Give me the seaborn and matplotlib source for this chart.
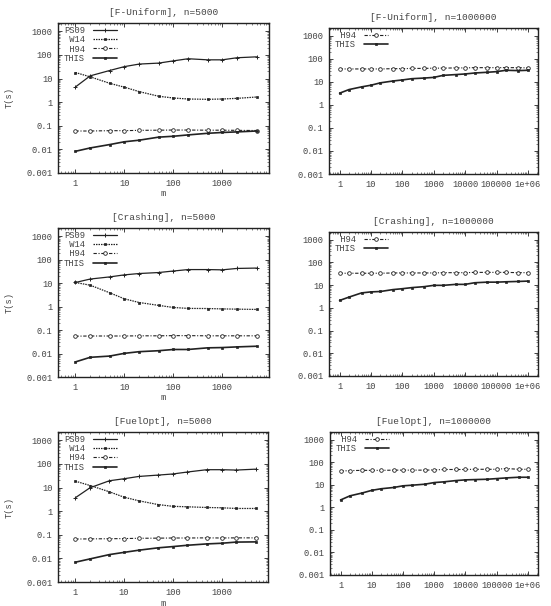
import numpy as np
import pandas as pd
import matplotlib
matplotlib.use("Agg")
import matplotlib.pyplot as plt
import matplotlib.ticker as mticker
import seaborn as sns

# ---------------- data ----------------
m_small = [1, 2, 5, 10, 20, 50, 100, 200, 500, 1000, 2000, 5000]
m_large = [1, 2, 5, 10, 20, 50, 100, 200, 500, 1000, 2000, 5000, 10000,
           20000, 50000, 100000, 200000, 500000, 1000000]

# [F-Uniform], n=5000
fu5_ps09 = [4.4, 13, 21.9, 32, 41, 45, 56, 69, 62, 62, 76, 83]
fu5_w14 = [18, 11.8, 6.3, 4.3, 2.8, 1.78, 1.5, 1.36, 1.32, 1.36, 1.45, 1.65]
fu5_h94 = [0.060, 0.060, 0.062, 0.062, 0.064, 0.065, 0.066, 0.066, 0.065, 0.065, 0.064, 0.063]
fu5_this = [0.0083, 0.0115, 0.016, 0.021, 0.0245, 0.033, 0.036, 0.041, 0.048, 0.052, 0.055, 0.060]

# [F-Uniform], n=1000000
fu1m_h94 = [36, 36, 36, 36, 36, 37, 37, 38, 38, 39, 39, 40, 40, 41, 41, 41, 41, 41, 40]
fu1m_this = [3.2, 4.6, 6.0, 7.1, 9.0, 10.8, 12, 13.6, 14.5, 15.5, 19, 20.5, 21.8,
             24, 25.8, 27.5, 31.5, 30.5, 31.5]

# [Crashing], n=5000
cr5_ps09 = [10.7, 15, 18.5, 22.6, 25.8, 28.4, 33, 38, 38, 37, 42.5, 44]
cr5_w14 = [10.7, 8.2, 3.9, 2.15, 1.5, 1.13, 0.92, 0.84, 0.83, 0.80, 0.78, 0.76]
cr5_h94 = [0.055, 0.056, 0.056, 0.056, 0.057, 0.057, 0.058, 0.058, 0.057, 0.057, 0.057, 0.057]
cr5_this = [0.0044, 0.0069, 0.0078, 0.0102, 0.012, 0.0132, 0.0149, 0.0149, 0.0175, 0.018, 0.0192, 0.0205]

# [Crashing], n=1000000
cr1m_h94 = [33, 33, 33, 33, 33, 34, 34, 34, 34, 34, 35, 35, 35, 36, 36, 36, 36, 35, 35]
cr1m_this = [2.1, 2.95, 4.5, 5.0, 5.2, 6.3, 6.9, 7.7, 8.5, 9.7, 9.7, 10.7, 10.7,
             12.6, 13.4, 13.4, 13.9, 14.4, 14.9]

# [FuelOpt], n=5000
fo5_ps09 = [3.7, 9.8, 19.4, 23.6, 29.5, 33.7, 37.5, 45.5, 57, 57, 55, 60]
fo5_w14 = [18.6, 12.2, 6.6, 3.9, 2.75, 1.9, 1.6, 1.53, 1.43, 1.39, 1.3, 1.3]
fo5_h94 = [0.066, 0.067, 0.068, 0.069, 0.071, 0.072, 0.073, 0.073, 0.074, 0.073, 0.074, 0.074]
fo5_this = [0.0069, 0.0095, 0.0145, 0.018, 0.0222, 0.028, 0.0316, 0.036, 0.041, 0.0437, 0.049, 0.050]

# [FuelOpt], n=1000000
fo1m_h94 = [40, 42, 43, 43, 43, 44, 44, 44, 44, 45, 47, 47, 47, 48, 48, 48, 52, 48, 48]
fo1m_this = [2.1, 3.2, 4.3, 5.6, 6.6, 7.5, 8.9, 9.5, 10.5, 12.4, 13.3, 15.2, 16.3,
             16.8, 17.4, 18.6, 19.9, 21.3, 21.3]

titles = ["[F-Uniform], n=5000", "[F-Uniform], n=1000000",
          "[Crashing], n=5000", "[Crashing], n=1000000",
          "[FuelOpt], n=5000", "[FuelOpt], n=1000000"]

y_ticks = [0.001, 0.01, 0.1, 1, 10, 100, 1000]
y_tick_labels = ["0.001", "0.01", "0.1", "1", "10", "100", "1000"]
x_ticks_small = [1, 10, 100, 1000]
x_tick_labels_small = ["1", "10", "100", "1000"]
x_ticks_large = [1, 10, 100, 1000, 10000, 100000, 1000000]
x_tick_labels_large = ["1", "10", "100", "1000", "10000", "100000", "1e+06"]

# ---------------- style ----------------
sns.set_style("ticks")
plt.rcParams["font.family"] = ["Liberation Mono", "DejaVu Sans Mono"]
INK = "#222222"
TXT = "#444444"

series_style = {
    "PS09": dict(linestyle="-", marker="+", markersize=3.2, linewidth=0.9,
                 markerfacecolor=INK, markeredgewidth=0.7),
    "W14": dict(linestyle=(0, (1.2, 0.8)), marker="s", markersize=1.5, linewidth=0.9,
                markerfacecolor=INK, markeredgewidth=0.5),
    "H94": dict(linestyle=(0, (3, 1.5, 1, 1.5)), marker="o", markersize=2.6, linewidth=0.8,
                markerfacecolor="white", markeredgewidth=0.6),
    "THIS": dict(linestyle="-", marker="s", markersize=1.8, linewidth=1.2,
                 markerfacecolor=INK, markeredgewidth=0.5),
}

W, H = 551, 606
fig = plt.figure(figsize=(W / 100, H / 100), dpi=100)

boxes = [  # left, top, right, bottom in pixels
    (58, 23, 269, 173), (329, 28, 538, 174),
    (58, 228, 269, 377), (329, 232, 538, 376),
    (58, 432, 268, 582), (330, 432, 538, 575),
]

panels = [
    (m_small, {"PS09": fu5_ps09, "W14": fu5_w14, "H94": fu5_h94, "THIS": fu5_this}),
    (m_large, {"H94": fu1m_h94, "THIS": fu1m_this}),
    (m_small, {"PS09": cr5_ps09, "W14": cr5_w14, "H94": cr5_h94, "THIS": cr5_this}),
    (m_large, {"H94": cr1m_h94, "THIS": cr1m_this}),
    (m_small, {"PS09": fo5_ps09, "W14": fo5_w14, "H94": fo5_h94, "THIS": fo5_this}),
    (m_large, {"H94": fo1m_h94, "THIS": fo1m_this}),
]

for i, ((l, t, r, b), (xs, series), title) in enumerate(zip(boxes, panels, titles)):
    ax = fig.add_axes([l / W, 1 - b / H, (r - l) / W, (b - t) / H])
    for name, ys in series.items():
        df = pd.DataFrame({"m": xs, "T": ys})
        sns.lineplot(data=df, x="m", y="T", ax=ax, color=INK, label=name,
                     markeredgecolor=INK, **series_style[name])
    ax.set_xscale("log")
    ax.set_yscale("log")
    small = (i % 2 == 0)
    if small:
        ax.set_xlim(0.44, 9000)
        ax.set_xticks(x_ticks_small)
        ax.set_xticklabels(x_tick_labels_small)
        ax.set_ylim(0.001, 2250)
    else:
        ax.set_xlim(0.46, 2.1e6)
        ax.set_xticks(x_ticks_large)
        ax.set_xticklabels(x_tick_labels_large)
        ax.set_ylim(0.001, 2150)
    ax.set_yticks(y_ticks)
    ax.set_yticklabels(y_tick_labels)
    ax.xaxis.set_minor_locator(mticker.LogLocator(base=10, subs=np.arange(2, 10)))
    ax.yaxis.set_minor_locator(mticker.LogLocator(base=10, subs=np.arange(2, 10)))
    ax.xaxis.set_minor_formatter(mticker.NullFormatter())
    ax.yaxis.set_minor_formatter(mticker.NullFormatter())
    ax.tick_params(which="major", direction="in", length=3, width=0.6, top=True, right=True,
                   labelsize=6.3, labelcolor=TXT, color=INK, pad=4)
    ax.tick_params(which="minor", direction="in", length=1.5, width=0.4, top=True, right=True,
                   color=INK)
    for sp in ax.spines.values():
        sp.set_visible(True)
        sp.set_linewidth(1.0)
        sp.set_color(INK)
    ax.set_title(title, fontsize=6.8, color=TXT, pad=6)
    if small:
        ax.set_ylabel("T(s)", fontsize=6.3, color=TXT)
        ax.yaxis.set_label_coords(-0.21, 0.5)
        ax.set_xlabel("m", fontsize=6.3, color=TXT)
        ax.xaxis.set_label_coords(0.5, -0.11)
    else:
        ax.set_ylabel("")
        ax.set_xlabel("")
    handles, labels = ax.get_legend_handles_labels()
    width = max(len(s) for s in labels)
    labels = [s.rjust(width) for s in labels]
    ax.legend(handles, labels, loc="upper left", bbox_to_anchor=(0.015, 1.0),
              frameon=False, markerfirst=False,
              fontsize=6.3, labelcolor=TXT, handlelength=2.8, handletextpad=0.9,
              labelspacing=0.05, borderaxespad=0.2, borderpad=0.1)

fig.savefig("out.png", dpi=100)
